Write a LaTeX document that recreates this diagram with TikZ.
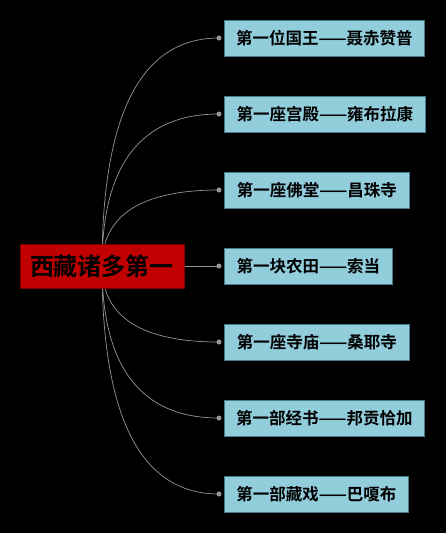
\documentclass[tikz,border=0pt]{standalone}
\usepackage{fontspec}
\setmainfont{Noto Sans CJK SC}[BoldFont={* Bold}]
\usetikzlibrary{backgrounds}
\definecolor{leaf}{HTML}{92CDDC}
\definecolor{leafborder}{HTML}{4A7A88}
\definecolor{rootred}{HTML}{C00000}
\definecolor{rootborder}{HTML}{7A0000}
\definecolor{wire}{HTML}{959595}
\tikzset{
  leafbox/.style={draw=leafborder, fill=leaf, line width=0.8pt, anchor=west,
    minimum height=36pt, inner xsep=0pt, inner ysep=0pt,
    font=\fontsize{16.5}{16}\selectfont\bfseries, text=black},
  rootbox/.style={draw=rootborder, fill=rootred, line width=0.8pt,
    minimum width=164pt, minimum height=44pt, inner sep=0pt,
    font=\fontsize{24}{24}\selectfont\bfseries, text=black},
  dot/.style={circle, fill=wire, inner sep=0pt, minimum size=5pt},
  wireline/.style={draw=wire, line width=0.7pt}
}
\begin{document}
\begin{tikzpicture}[x=1pt,y=1pt]
\useasboundingbox (0,0) rectangle (446,-533);
\begin{scope}[on background layer]
  \fill[black] (0,0) rectangle (446,-533);
\end{scope}
\node[rootbox] (root) at (102,-266) {西藏诸多第一};
\coordinate (rc) at (102,-266);
\node[leafbox, minimum width=200pt] (c1) at (224,-38) {第一位国王——聂赤赞普};
\node[leafbox, minimum width=201pt] (c2) at (224,-114) {第一座宫殿——雍布拉康};
\node[leafbox, minimum width=185pt] (c3) at (224,-190) {第一座佛堂——昌珠寺};
\node[leafbox, minimum width=168pt] (c4) at (224,-266) {第一块农田——索当};
\node[leafbox, minimum width=185pt] (c5) at (224,-342) {第一座寺庙——桑耶寺};
\node[leafbox, minimum width=200pt] (c6) at (224,-418) {第一部经书——邦贡恰加};
\node[leafbox, minimum width=184pt] (c7) at (224,-494) {第一部藏戏——巴嗄布};
\foreach \i/\y in {1/-38,2/-114,3/-190,4/-266,5/-342,6/-418,7/-494} {
  \node[dot] (d\i) at (219,\y) {};
}
\begin{scope}[on background layer]
  \foreach \i/\y in {1/-38,2/-114,3/-190,5/-342,6/-418,7/-494} {
    \pgfmathsetmacro{\cy}{-266+2/3*(\y+266)}
    \draw[wireline] (rc) .. controls (102,\cy) and (141,\y) .. (d\i.center);
  }
  \draw[wireline] (root.east) -- (d4.center);
\end{scope}
\end{tikzpicture}
\end{document}
